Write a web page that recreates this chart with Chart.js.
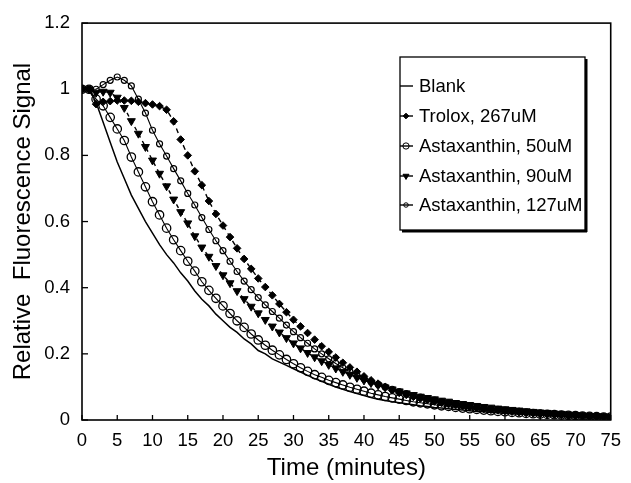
<!DOCTYPE html>
<html><head><meta charset="utf-8">
<script src="https://cdn.jsdelivr.net/npm/chart.js@4.4.1/dist/chart.umd.min.js"></script>
<style>html,body{margin:0;padding:0;background:#fff}#wrap{width:631px;height:483px}</style>
</head><body><div id="wrap"><canvas id="c" width="631" height="483"></canvas></div>
<script>
const time = Array.from({length:76},(_,i)=>i);
const seriesNames = ["Blank","Trolox, 267uM","Astaxanthin, 50uM","Astaxanthin, 90uM","Astaxanthin, 127uM"];
const blank = [1.00,1.00,0.96,0.90,0.84,0.78,0.73,0.68,0.64,0.60,0.565,0.53,0.50,0.475,0.445,0.42,0.39,0.365,0.345,0.32,0.30,0.28,0.265,0.245,0.23,0.21,0.20,0.185,0.175,0.165,0.155,0.145,0.135,0.125,0.117,0.108,0.10,0.093,0.086,0.08,0.074,0.068,0.063,0.059,0.055,0.052,0.049,0.046,0.043,0.041,0.038,0.036,0.034,0.032,0.030,0.028,0.026,0.025,0.023,0.022,0.020,0.019,0.018,0.017,0.016,0.015,0.014,0.013,0.012,0.011,0.010,0.010,0.009,0.009,0.008,0.008];
const trolox = [1.00,1.00,0.955,0.962,0.964,0.966,0.966,0.965,0.962,0.958,0.954,0.949,0.938,0.903,0.848,0.80,0.752,0.71,0.662,0.623,0.588,0.553,0.519,0.487,0.457,0.428,0.402,0.377,0.351,0.326,0.303,0.283,0.263,0.243,0.223,0.206,0.189,0.173,0.159,0.146,0.132,0.12,0.11,0.10,0.09,0.082,0.076,0.07,0.065,0.06,0.056,0.052,0.048,0.045,0.042,0.039,0.036,0.033,0.031,0.029,0.027,0.025,0.023,0.021,0.020,0.018,0.017,0.016,0.015,0.013,0.012,0.011,0.010,0.009,0.009,0.008];
const astax50 = [1.00,1.00,0.97,0.95,0.915,0.88,0.845,0.795,0.75,0.705,0.66,0.62,0.58,0.545,0.512,0.48,0.45,0.418,0.392,0.368,0.345,0.322,0.30,0.28,0.26,0.242,0.226,0.211,0.197,0.183,0.17,0.158,0.147,0.137,0.129,0.12,0.113,0.106,0.099,0.093,0.087,0.081,0.076,0.071,0.067,0.063,0.059,0.055,0.052,0.049,0.046,0.043,0.041,0.038,0.036,0.034,0.032,0.030,0.028,0.026,0.025,0.023,0.022,0.020,0.019,0.018,0.017,0.016,0.015,0.014,0.013,0.012,0.011,0.010,0.009,0.009];
const astax90 = [1.00,1.00,0.99,0.993,0.99,0.975,0.944,0.904,0.866,0.826,0.785,0.745,0.707,0.667,0.629,0.595,0.556,0.522,0.494,0.466,0.438,0.414,0.39,0.366,0.343,0.323,0.303,0.283,0.265,0.248,0.232,0.217,0.203,0.19,0.178,0.167,0.156,0.146,0.137,0.128,0.12,0.112,0.105,0.099,0.093,0.087,0.081,0.076,0.071,0.067,0.063,0.059,0.056,0.052,0.049,0.046,0.043,0.040,0.038,0.035,0.033,0.031,0.029,0.027,0.025,0.023,0.022,0.020,0.019,0.017,0.016,0.014,0.013,0.012,0.011,0.010];
const astax127 = [1.00,1.00,1.00,1.014,1.027,1.037,1.027,1.01,0.97,0.928,0.876,0.835,0.798,0.76,0.723,0.685,0.65,0.612,0.576,0.542,0.512,0.48,0.449,0.42,0.394,0.37,0.348,0.328,0.308,0.287,0.267,0.249,0.232,0.215,0.20,0.185,0.171,0.158,0.146,0.135,0.125,0.116,0.108,0.10,0.093,0.086,0.08,0.074,0.069,0.064,0.06,0.056,0.052,0.048,0.045,0.042,0.039,0.037,0.034,0.032,0.030,0.028,0.026,0.024,0.022,0.021,0.019,0.018,0.017,0.015,0.014,0.013,0.012,0.011,0.010,0.009];
const xTicks = [0,5,10,15,20,25,30,35,40,45,50,55,60,65,70,75];
const yTicks = [0,0.2,0.4,0.6,0.8,1,1.2];

const FONT = "'Liberation Sans', Arial, sans-serif";
const pts = arr => time.map((t,i)=>({x:t,y:arr[i]}));

const datasets = [
  {label:seriesNames[0], data:pts(blank), borderColor:'#000', borderWidth:1.5, pointRadius:0, order:5},
  {label:seriesNames[1], data:pts(trolox), borderColor:'#000', borderWidth:1.4, borderDash:[5,4], pointStyle:'rectRot', pointRadius:3.8, pointBackgroundColor:'#000', pointBorderColor:'#000', pointBorderWidth:1, order:1},
  {label:seriesNames[2], data:pts(astax50), borderColor:'#000', borderWidth:1.1, pointStyle:'circle', pointRadius:4.2, pointBackgroundColor:'rgba(255,255,255,0)', pointBorderColor:'#000', pointBorderWidth:1.3, order:4},
  {label:seriesNames[3], data:pts(astax90), borderColor:'#000', borderWidth:1.4, borderDash:[4,4], pointStyle:'triangle', pointRotation:180, pointRadius:4.6, pointBackgroundColor:'#000', pointBorderColor:'#000', pointBorderWidth:1, order:2},
  {label:seriesNames[4], data:pts(astax127), borderColor:'#000', borderWidth:1.1, pointStyle:'circle', pointRadius:3, pointBackgroundColor:'rgba(255,255,255,0)', pointBorderColor:'#000', pointBorderWidth:1.2, order:3}
];

const framePlugin = {
  id:'frame',
  afterDraw(chart){
    const {ctx, chartArea:a, scales} = chart;
    ctx.save();
    ctx.strokeStyle='#000'; ctx.lineWidth=1.6;
    ctx.strokeRect(a.left, a.top, a.right-a.left, a.bottom-a.top);
    ctx.lineWidth=1.3;
    xTicks.forEach(v=>{const x=scales.x.getPixelForValue(v); ctx.beginPath(); ctx.moveTo(x,a.bottom); ctx.lineTo(x,a.bottom-5); ctx.stroke();});
    yTicks.forEach(v=>{const y=scales.y.getPixelForValue(v); ctx.beginPath(); ctx.moveTo(a.left,y); ctx.lineTo(a.left+6,y); ctx.stroke();});
    // legend box
    const L=400,T=57,R=585,B=230;
    ctx.fillStyle='#000';
    ctx.fillRect(L+2,B,R-L,2.5);
    ctx.fillRect(R,T+2,2.5,B-T);
    ctx.fillStyle='#fff'; ctx.fillRect(L,T,R-L,B-T);
    ctx.lineWidth=1.3; ctx.strokeStyle='#000'; ctx.strokeRect(L,T,R-L,B-T);
    const ys=[86,116,146,176,205];
    ctx.font='18.5px '+FONT; ctx.textBaseline='middle'; ctx.textAlign='left';
    chart.data.datasets.forEach((ds,i)=>{
      const y=ys[i];
      ctx.setLineDash([]); ctx.lineWidth=1.4; ctx.strokeStyle='#000';
      ctx.beginPath(); ctx.moveTo(L,y); ctx.lineTo(L+13,y); ctx.stroke();
      if(ds.pointRadius>0){
        ctx.fillStyle=ds.pointBackgroundColor; ctx.strokeStyle='#000'; ctx.lineWidth=1;
        Chart.helpers.drawPoint(ctx,{pointStyle:ds.pointStyle,rotation:ds.pointRotation||0,radius:ds.pointRadius*0.75,borderWidth:1},L+6,y);
      }
      ctx.fillStyle='#000';
      ctx.fillText(ds.label, L+19, y+1);
    });
    ctx.restore();
  }
};

new Chart(document.getElementById('c'),{
  type:'line',
  data:{datasets},
  options:{
    responsive:false, animation:false,
    layout:{padding:{left:0,right:11,top:21,bottom:0}},
    plugins:{legend:{display:false}, tooltip:{enabled:false}},
    elements:{line:{tension:0}},
    scales:{
      x:{type:'linear', min:0, max:75,
        afterBuildTicks:s=>{s.ticks=xTicks.map(v=>({value:v}));},
        afterFit:s=>{s.height=63;},
        grid:{display:false, drawTicks:false},
        border:{display:false},
        ticks:{color:'#000', font:{family:FONT,size:18.5}, padding:10, maxRotation:0, autoSkip:false},
        title:{display:true, text:'Time (minutes)', color:'#000', font:{family:FONT,size:24}, padding:{top:0,bottom:0}}
      },
      y:{type:'linear', min:0, max:1.2,
        afterBuildTicks:s=>{s.ticks=yTicks.map(v=>({value:v}));},
        afterFit:s=>{s.width=82;},
        grid:{display:false, drawTicks:false},
        border:{display:false},
        ticks:{color:'#000', font:{family:FONT,size:18.5}, padding:12, callback:v=>String(+v.toFixed(1))},
        title:{display:true, text:'Relative  Fluorescence Signal', color:'#000', font:{family:FONT,size:24}, padding:{top:9,bottom:0}}
      }
    }
  },
  plugins:[framePlugin]
});
</script></body></html>
